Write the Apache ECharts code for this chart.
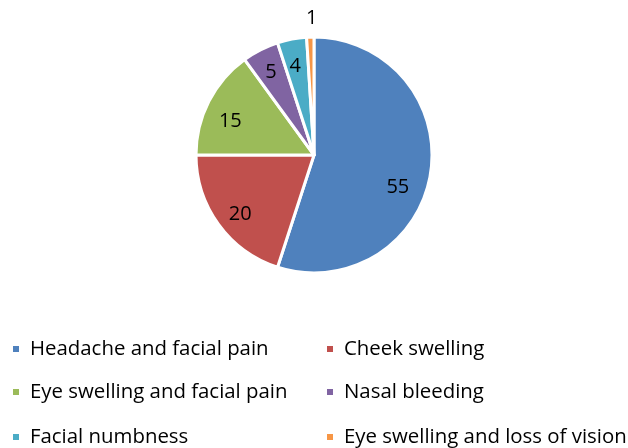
<!DOCTYPE html>
<html>
<head>
<meta charset="utf-8">
<script src="https://cdn.jsdelivr.net/npm/echarts@6/dist/echarts.min.js"></script>
<style>html,body{margin:0;padding:0;background:#fff}#c{width:628px;height:448px}</style>
</head>
<body>
<div id="c"></div>
<script>
var categories = ['Headache and facial pain', 'Cheek swelling', 'Eye swelling and facial pain', 'Nasal bleeding', 'Facial numbness', 'Eye swelling and loss of vision'];
var values = [55, 20, 15, 5, 4, 1];
var colors = ['#4F81BD', '#C0504D', '#9BBB59', '#8064A2', '#4BACC6', '#F79646'];

var FONT = '"Open Sans", "Noto Sans", sans-serif';
var chart = echarts.init(document.getElementById('c'), null, {renderer: 'canvas'});

function pieData(withColor, labelFn) {
  return categories.map(function (n, i) {
    var d = {name: n, value: values[i]};
    if (withColor) d.itemStyle = {color: colors[i]};
    if (labelFn) d.label = labelFn(i);
    return d;
  });
}

var legendTops = [349, 392, 437];
var legends = categories.map(function (n, i) {
  return {
    data: [n],
    left: (i % 2 === 0) ? 11 : 325,
    top: legendTops[Math.floor(i / 2)] - 11,
    padding: 0,
    itemWidth: 8,
    itemHeight: 8,
    icon: 'rect',
    selectedMode: false,
    textStyle: {fontFamily: FONT, fontSize: 20.4, color: '#000', padding: [0, 0, 0, 5], lineHeight: 22}
  };
});

var commonLabel = {fontFamily: FONT, fontSize: 20, color: '#000'};

chart.setOption({
  animation: false,
  color: colors,
  legend: legends,
  series: [
    {
      type: 'pie',
      center: [314, 155],
      radius: [0, 118],
      startAngle: 90,
      clockwise: true,
      silent: true,
      label: {show: false},
      labelLine: {show: false},
      itemStyle: {borderColor: '#fff', borderWidth: 3},
      data: pieData(true)
    },
    {
      type: 'pie',
      center: [314, 155],
      radius: [64, 120],
      startAngle: 90,
      clockwise: true,
      silent: true,
      avoidLabelOverlap: false,
      legendHoverLink: false,
      itemStyle: {color: 'rgba(0,0,0,0)', borderWidth: 0},
      label: Object.assign({show: true, position: 'inside', formatter: '{c}'}, commonLabel),
      labelLine: {show: false},
      data: pieData(false, function (i) {
        if (i === 5) return {show: false};
        if (i === 0) return {offset: [-10, 17]};
        if (i === 1) return {offset: [3, 3]};
        if (i === 2) return {offset: [1, 9]};
        if (i === 3) return {offset: [0, 2]};
        if (i === 4) return {offset: [-1, 5]};
        return {};
      })
    },
    {
      type: 'pie',
      center: [314, 155],
      radius: [124, 144],
      startAngle: 90,
      clockwise: true,
      silent: true,
      avoidLabelOverlap: false,
      legendHoverLink: false,
      itemStyle: {color: 'rgba(0,0,0,0)', borderWidth: 0},
      label: Object.assign({show: true, position: 'inside', formatter: '{c}'}, commonLabel),
      labelLine: {show: false},
      data: pieData(false, function (i) {
        return i === 5 ? {offset: [2, 0]} : {show: false};
      })
    }
  ]
});
</script>
</body>
</html>
